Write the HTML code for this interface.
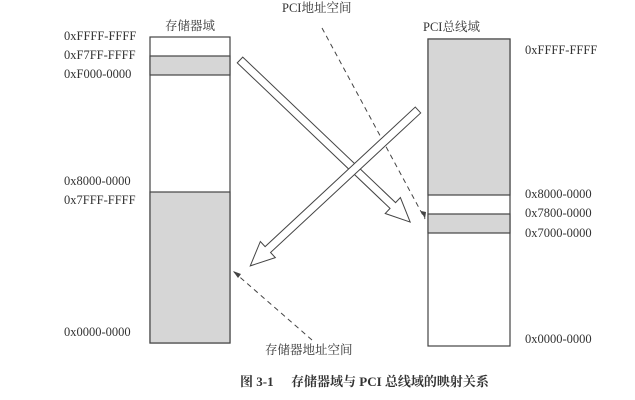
<!DOCTYPE html>
<html><head><meta charset="utf-8"><style>
html,body{margin:0;padding:0;background:#fff;}
svg{display:block;}
text{font-family:"Liberation Serif","Noto Serif CJK SC",serif;fill:#333;}
</style></head><body>
<svg width="635" height="400" viewBox="0 0 635 400" xmlns="http://www.w3.org/2000/svg">
<rect width="635" height="400" fill="#fff"/>
<rect x="150" y="37" width="80" height="306" fill="#fff" stroke="#444" stroke-width="1.2"/>
<rect x="150" y="56" width="80" height="19" fill="#d6d6d6" stroke="#444" stroke-width="1.2"/>
<rect x="150" y="192" width="80" height="151" fill="#d6d6d6" stroke="#444" stroke-width="1.2"/>
<rect x="428" y="39" width="82" height="307" fill="#fff" stroke="#444" stroke-width="1.2"/>
<rect x="428" y="39" width="82" height="156" fill="#d6d6d6" stroke="#444" stroke-width="1.2"/>
<rect x="428" y="214" width="82" height="19" fill="#d6d6d6" stroke="#444" stroke-width="1.2"/>
<g font-size="12.5">
<text x="64" y="40">0xFFFF-FFFF</text>
<text x="64" y="59">0xF7FF-FFFF</text>
<text x="64" y="78">0xF000-0000</text>
<text x="64" y="185">0x8000-0000</text>
<text x="64" y="204">0x7FFF-FFFF</text>
<text x="64" y="336">0x0000-0000</text>
<text x="525" y="54">0xFFFF-FFFF</text>
<text x="525" y="198">0x8000-0000</text>
<text x="525" y="217">0x7800-0000</text>
<text x="525" y="237">0x7000-0000</text>
<text x="525" y="343">0x0000-0000</text>
</g>
<g font-size="12.5">
<text x="165" y="30">存储器域</text>
<text x="423" y="31">PCI总线域</text>
<text x="282" y="12">PCI地址空间</text>
<text x="265" y="354">存储器地址空间</text>
</g>
<line x1="322" y1="28" x2="425" y2="219" stroke="#444" stroke-width="1" stroke-dasharray="5,4"/>
<polygon points="425,219 421,211 426,212" fill="#444"/>
<line x1="312" y1="340" x2="234" y2="272" stroke="#444" stroke-width="1" stroke-dasharray="5,4"/>
<polygon points="233,271 241,274 238,278" fill="#444"/>
<g fill="#fff" stroke="#444" stroke-width="1">
<polygon transform="translate(240,60) rotate(43.6)" points="0,-4 211,-4 211,-11 235,0 211,11 211,4 0,4"/>
<polygon transform="translate(418,110) rotate(137.1)" points="0,-4 205,-4 205,-11 229,0 205,11 205,4 0,4"/>
</g>
<text x="240" y="386" font-size="13" font-weight="bold" fill="#222">图 3-1</text>
<text x="291" y="386" font-size="13" font-weight="bold" fill="#222">存储器域与 PCI 总线域的映射关系</text>
</svg>
</body></html>
